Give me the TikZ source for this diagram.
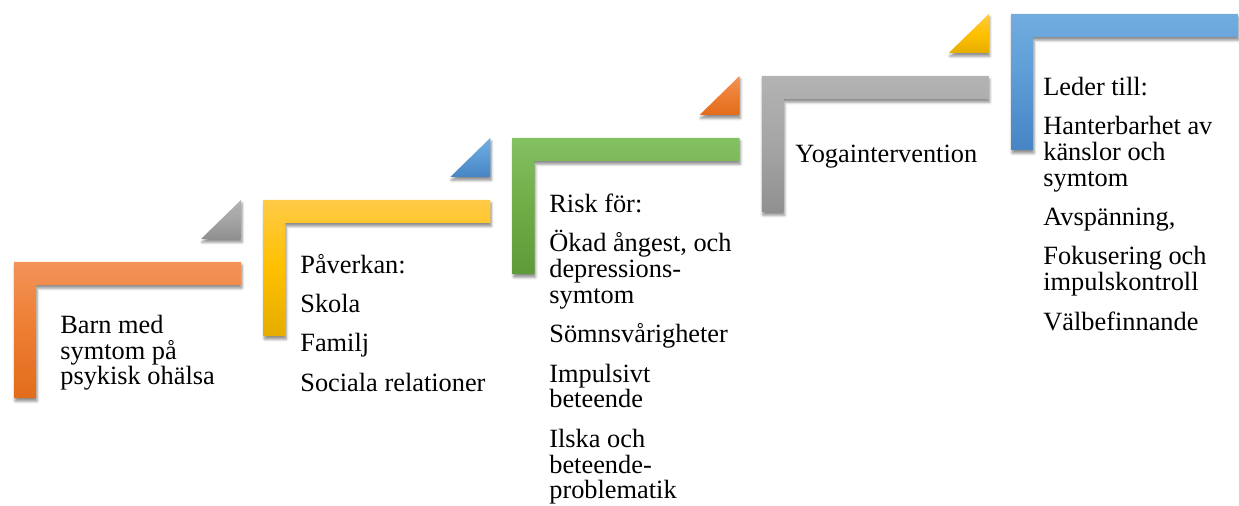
\documentclass[tikz,border=0pt]{standalone}
\usepackage{fontspec}
\setmainfont{Liberation Serif}
\usetikzlibrary{shadows.blur}

\definecolor{acorange}{HTML}{ED7D31}
\definecolor{acorangetop}{HTML}{F39358}
\definecolor{acorangebot}{HTML}{E26C1C}
\definecolor{acyellow}{HTML}{FFC000}
\definecolor{acyellowtop}{HTML}{FFCB47}
\definecolor{acyellowbot}{HTML}{E5AD00}
\definecolor{acgreen}{HTML}{70AD47}
\definecolor{acgreentop}{HTML}{83C163}
\definecolor{acgreenbot}{HTML}{5E9A38}
\definecolor{acgray}{HTML}{A5A5A5}
\definecolor{acgraytop}{HTML}{B3B3B3}
\definecolor{acgraybot}{HTML}{909090}
\definecolor{acblue}{HTML}{5B9BD5}
\definecolor{acbluetop}{HTML}{72ADE0}
\definecolor{acbluebot}{HTML}{4784C4}

\tikzset{
  stepfill/.style={top color=#1top, bottom color=#1bot, middle color=#1,
    blur shadow={shadow xshift=0.6pt, shadow yshift=-1.8pt, shadow blur radius=1.5pt, shadow opacity=45}},
  steptext/.style={anchor=north west, inner sep=0pt, align=left, font=\rmfamily\fontsize{15}{14.7}\selectfont}
}

\begin{document}
\begin{tikzpicture}[x=0.02cm, y=-0.02cm]
\useasboundingbox (0,0) rectangle (1239,506);

\path[stepfill=acorange] (14,262) -- ++(227,0) -- ++(0,23) -- ++(-205,0) -- ++(0,113) -- ++(-22,0) -- cycle;
\path[stepfill=acgray] (201,239) -- ++(40,0) -- ++(0,-39) -- cycle;

\path[stepfill=acyellow] (263.25,200) -- ++(227,0) -- ++(0,23) -- ++(-205,0) -- ++(0,113) -- ++(-22,0) -- cycle;
\path[stepfill=acblue] (450.25,177) -- ++(40,0) -- ++(0,-39) -- cycle;

\path[stepfill=acgreen] (512.5,138) -- ++(227,0) -- ++(0,23) -- ++(-205,0) -- ++(0,113) -- ++(-22,0) -- cycle;
\path[stepfill=acorange] (699.5,115) -- ++(40,0) -- ++(0,-39) -- cycle;

\path[stepfill=acgray] (761.75,76) -- ++(227,0) -- ++(0,23) -- ++(-205,0) -- ++(0,113) -- ++(-22,0) -- cycle;
\path[stepfill=acyellow] (948.75,53) -- ++(40,0) -- ++(0,-39) -- cycle;

\path[stepfill=acblue] (1011,14) -- ++(227,0) -- ++(0,23) -- ++(-205,0) -- ++(0,113) -- ++(-22,0) -- cycle;

\node[steptext] (barn) at (60,313.6) {\rule{0pt}{11pt}Barn med\\symtom på\\psykisk ohälsa};
\node[steptext] (paverkan) at (300,253.6) {\rule{0pt}{11pt}Påverkan:\\[7.7pt]Skola\\[7.7pt]Familj\\[7.7pt]Sociala relationer};
\node[steptext] (risk) at (549,192.6) {\rule{0pt}{11pt}Risk för:\\[7.7pt]Ökad ångest, och\\depressions-\\symtom\\[7.7pt]Sömnsvårigheter\\[7.7pt]Impulsivt\\beteende\\[7.7pt]Ilska och\\beteende-\\problematik};
\node[steptext] (yoga) at (795,142.6) {\rule{0pt}{11pt}Yogaintervention};
\node[steptext] (leder) at (1043,75.6) {\rule{0pt}{11pt}Leder till:\\[7.7pt]Hanterbarhet av\\känslor och\\symtom\\[7.7pt]Avspänning,\\[7.7pt]Fokusering och\\impulskontroll\\[7.7pt]Välbefinnande};
\end{tikzpicture}
\end{document}
